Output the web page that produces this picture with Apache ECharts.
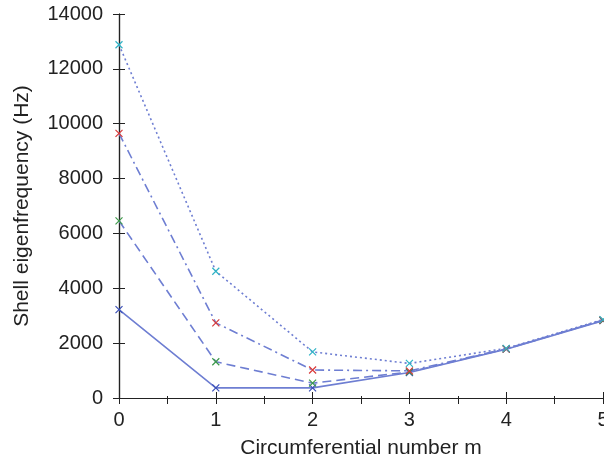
<!DOCTYPE html>
<html><head><meta charset="utf-8">
<script src="https://cdn.jsdelivr.net/npm/echarts@6/dist/echarts.min.js"></script>
<style>html,body{margin:0;padding:0;background:#fff}#c{width:604px;height:463px}</style>
</head><body><div id="c"></div>
<script>
var m = [0, 1, 2, 3, 4, 5];
var s1 = [3220, 370, 370, 930, 1780, 2820];
var s2 = [6460, 1320, 540, 950, 1790, 2830];
var s3 = [9650, 2740, 1020, 990, 1790, 2840];
var s4 = [12880, 4620, 1680, 1260, 1810, 2860];
var markColors = ['#3a4fb8', '#3d9a4a', '#d83a3a', '#2fb3c6'];
var dashes = ['solid', [9, 5], [9, 4, 2, 4], [2, 3]];
var seriesData = [s1, s2, s3, s4];
var lineColor = '#6e7ed2';
var xMark = 'path://M0,0L10,10M10,0L0,10';
var font = 'Liberation Sans, Arial, sans-serif';
var chart = echarts.init(document.getElementById('c'));
var series = seriesData.map(function (d, i) {
  return {
    type: 'line', data: d.map(function (v, k) { return [m[k], v]; }),
    symbol: xMark, symbolSize: 7, showSymbol: true,
    itemStyle: { color: 'rgba(0,0,0,0)', borderColor: markColors[i], borderWidth: 1.2 },
    lineStyle: { color: lineColor, width: 1.6, type: dashes[i] },
    emphasis: { disabled: true }, animation: false, z: 2
  };
});
chart.setOption({
  animation: false,
  grid: { left: 119, right: 1, top: 14, bottom: 65, outerBoundsMode: 'none', containLabel: false },
  xAxis: [{
    type: 'value', min: 0, max: 5, interval: 1, position: 'bottom',
    name: 'Circumferential number m', nameLocation: 'middle', nameGap: 40,
    nameTextStyle: { fontFamily: font, fontSize: 21, color: '#222' },
    axisLine: { lineStyle: { color: '#222', width: 1.2 } },
    axisTick: { inside: true, length: 6, lineStyle: { color: '#222' } },
    minorTick: { show: true, splitNumber: 2, length: 2, lineStyle: { color: '#222' } },
    axisLabel: { fontFamily: font, fontSize: 20, color: '#222', margin: 12, formatter: function (v) { return String(v); } },
    splitLine: { show: false }
  }, {
    type: 'value', min: 0, max: 5, interval: 0.5, position: 'top',
    axisLine: { lineStyle: { color: '#222', width: 1.2 } },
    axisTick: { inside: true, length: 6, lineStyle: { color: '#222' } },
    axisLabel: { show: false }, splitLine: { show: false }
  }],
  yAxis: [{
    type: 'value', min: 0, max: 14000, interval: 2000, position: 'left',
    name: 'Shell eigenfrequency (Hz)', nameLocation: 'middle', nameGap: 86, nameRotate: 90,
    nameTextStyle: { fontFamily: font, fontSize: 21, color: '#222' },
    axisLine: { show: true, lineStyle: { color: '#222', width: 1.2 } },
    axisTick: { show: true, inside: true, length: 6, lineStyle: { color: '#222' } },
    axisLabel: { fontFamily: font, fontSize: 20, color: '#222', margin: 16, formatter: function (v) { return String(v); } },
    splitLine: { show: false }
  }, {
    type: 'value', min: 0, max: 14000, interval: 2000, position: 'right',
    axisLine: { show: true, lineStyle: { color: '#222', width: 1.2 } },
    axisTick: { show: true, inside: true, length: 6, lineStyle: { color: '#222' } },
    axisLabel: { show: false }, splitLine: { show: false }
  }],
  series: series
});
</script></body></html>
